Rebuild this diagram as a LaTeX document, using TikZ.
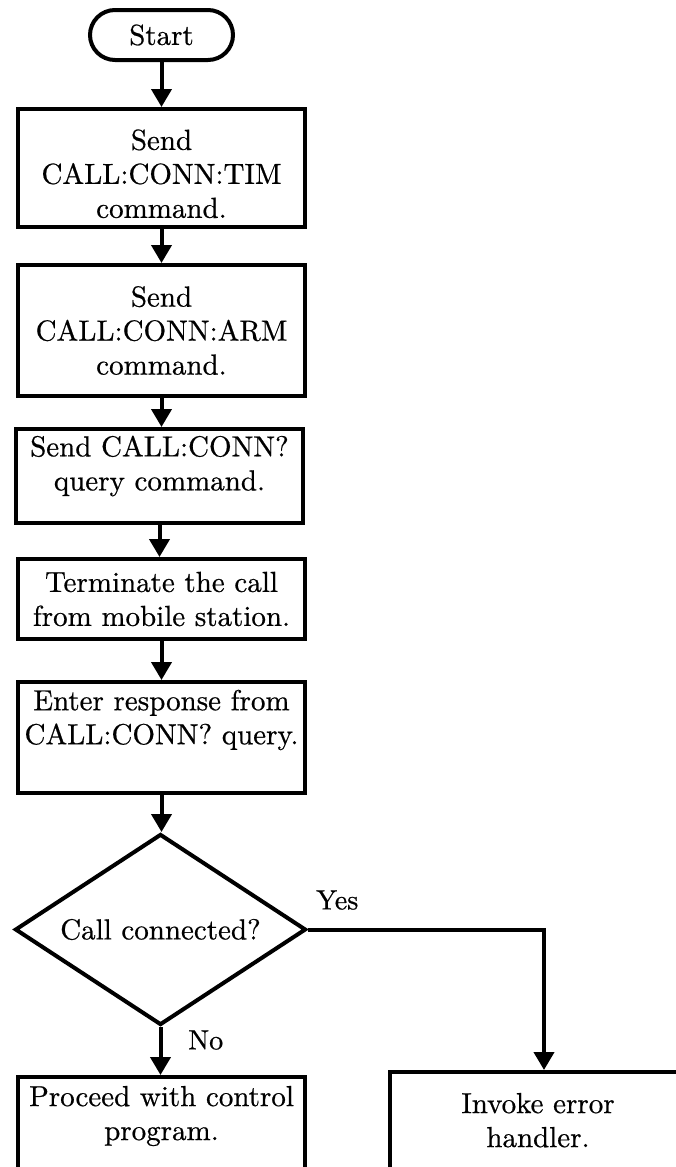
\documentclass[tikz,border=0pt]{standalone}
\usepackage{fontspec}
\setmainfont{lmroman10-regular.otf}[FakeBold=0.6]
\usetikzlibrary{arrows.meta,shapes.geometric}
\newcommand\padb[1]{\rule[-#1]{0pt}{0pt}}
\begin{document}
\begin{tikzpicture}[x=1pt,y=-1pt,
  every node/.style={font=\fontsize{29}{34}\selectfont, align=center},
  box/.style={draw, line width=4pt, inner sep=0pt, minimum width=287pt},
  term/.style={draw, line width=4pt, rounded corners=25pt, minimum width=143pt, minimum height=50pt, inner sep=0pt},
  dec/.style={draw, diamond, aspect=1.51, line width=4pt, inner sep=0pt, minimum width=291pt, minimum height=191pt},
  arr/.style={line width=4pt, -{Triangle[width=20pt,length=18pt]}},
  lbl/.style={font=\fontsize{28}{32}\selectfont, anchor=west, inner sep=0pt}
]
\useasboundingbox (0,0) rectangle (676,1167);
\clip (0,0) rectangle (676,1167);
\node[term] (start) at (161.5,35) {Start};
\node[box, minimum height=118pt] (b1) at (161.5,168) {\rule{0pt}{32pt}Send\\CALL:CONN:TIM\\command.};
\node[box, minimum height=131pt] (b2) at (161.5,330.5) {Send\\CALL:CONN:ARM\\command.};
\node[box, minimum height=94pt] (b3) at (159.5,476) {Send CALL:CONN?\\query command.\padb{26pt}};
\node[box, minimum height=80pt] (b4) at (161.5,599) {Terminate the call\\from mobile station.};
\node[box, minimum height=111pt] (b5) at (161.5,737.5) {Enter response from\\CALL:CONN? query.\padb{41pt}};
\node[dec] (dec) at (160.5,929.5) {Call connected?};
\node[box, minimum height=140pt] (b6) at (161.5,1147) {Proceed with control\\program.\padb{68pt}};
\node[box, minimum height=140pt, minimum width=296pt] (b7) at (538,1142) {Invoke error\\handler.\padb{44pt}};
\node[lbl] (yes) at (316,900) {Yes};
\node[lbl] (no) at (188,1040) {No};
\coordinate (yc) at (544,929.5);
\draw[arr] (start.south) -- (start.south |- b1.north);
\draw[arr] (b1.south) -- (b1.south |- b2.north);
\draw[arr] (b2.south) -- (b2.south |- b3.north);
\draw[arr] (b3.south) -- (b3.south |- b4.north);
\draw[arr] (b4.south) -- (b4.south |- b5.north);
\draw[arr] (b5.south) -- (b5.south |- dec.north);
\draw[arr] (dec.south) -- (dec.south |- b6.north);
\draw[arr] (dec.east) -- (yc) -- (yc |- b7.north);
\end{tikzpicture}
\end{document}
